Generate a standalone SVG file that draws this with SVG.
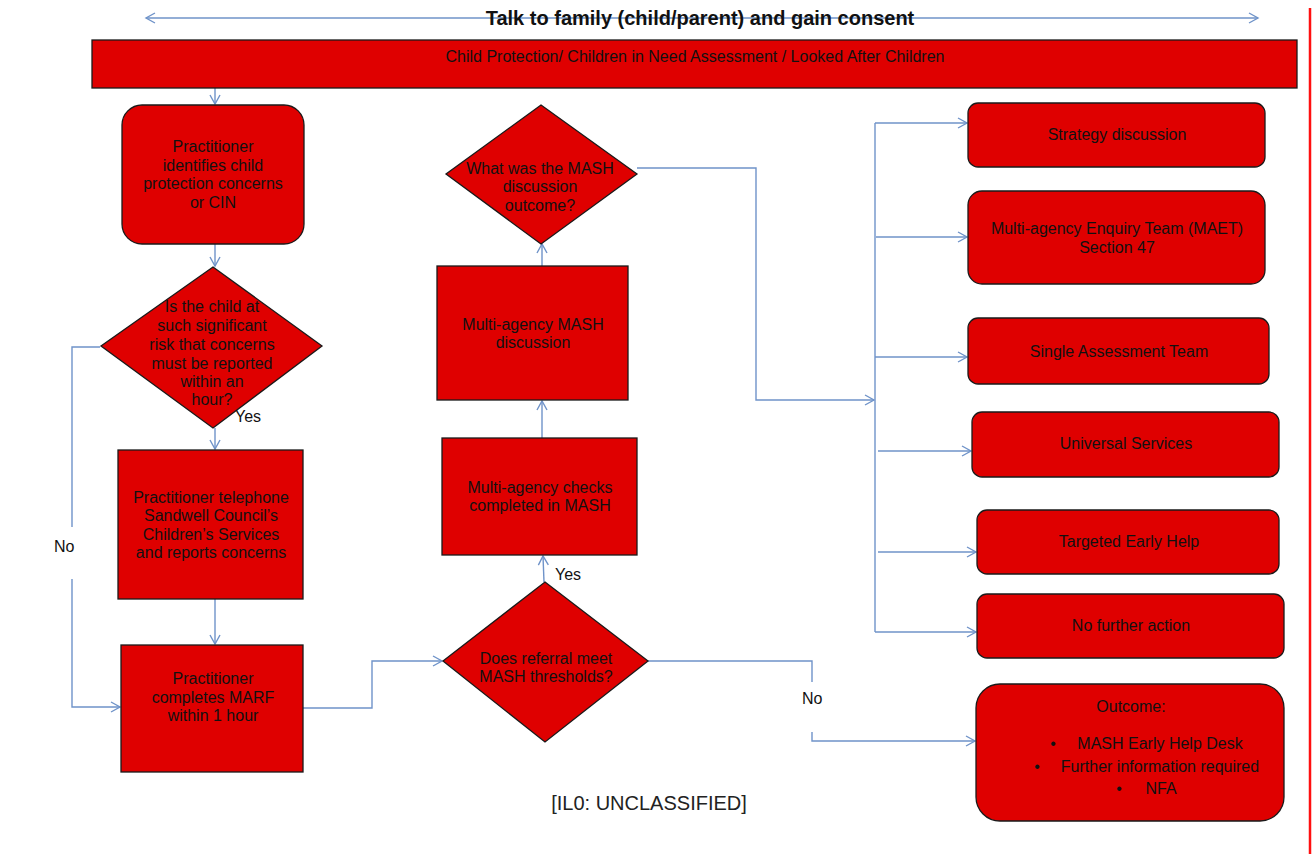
<svg xmlns="http://www.w3.org/2000/svg" width="1316" height="854" viewBox="0 0 1316 854">
<style>
.n{fill:#df0000;stroke:#1a1a1a;stroke-width:1.3}
.t{font-family:"Liberation Sans",Arial,sans-serif;font-size:16px;fill:#111;text-anchor:middle}
.l{font-family:"Liberation Sans",Arial,sans-serif;font-size:16px;fill:#111}
.c{fill:none;stroke:#6f93c9;stroke-width:1.4}
</style>
<defs>
<marker id="a" markerWidth="12" markerHeight="12" refX="10" refY="6" orient="auto" markerUnits="userSpaceOnUse">
<path d="M1,1 L10,6 L1,11" fill="none" stroke="#6f93c9" stroke-width="1.4"/>
</marker>
<marker id="as" markerWidth="12" markerHeight="12" refX="2" refY="6" orient="auto" markerUnits="userSpaceOnUse">
<path d="M11,1 L2,6 L11,11" fill="none" stroke="#6f93c9" stroke-width="1.4"/>
</marker>
</defs>
<rect width="1316" height="854" fill="#fff"/>
<line x1="1310" y1="8" x2="1310" y2="854" stroke="#ff1010" stroke-width="2.5"/>

<g id="connectors">
<line class="c" x1="146" y1="18" x2="1258" y2="18" marker-start="url(#as)" marker-end="url(#a)"/>
<line class="c" x1="215" y1="88" x2="215" y2="104" marker-end="url(#a)"/>
<line class="c" x1="215" y1="244" x2="215" y2="266" marker-end="url(#a)"/>
<line class="c" x1="215" y1="428" x2="215" y2="449" marker-end="url(#a)"/>
<line class="c" x1="215" y1="599" x2="215" y2="644" marker-end="url(#a)"/>
<polyline class="c" points="100,347 72,347 72,527"/>
<polyline class="c" points="72,579 72,707 120,707" marker-end="url(#a)"/>
<polyline class="c" points="303,708 372,708 372,661 442,661" marker-end="url(#a)"/>
<line class="c" x1="544" y1="582" x2="543" y2="556" marker-end="url(#a)"/>
<line class="c" x1="542" y1="438" x2="542" y2="401" marker-end="url(#a)"/>
<line class="c" x1="542" y1="266" x2="542" y2="244" marker-end="url(#a)"/>
<polyline class="c" points="637,168 756,168 756,400 874,400" marker-end="url(#a)"/>
<line class="c" x1="875" y1="123" x2="875" y2="632"/>
<line class="c" x1="875" y1="123" x2="967" y2="123" marker-end="url(#a)"/>
<line class="c" x1="876" y1="237" x2="967" y2="237" marker-end="url(#a)"/>
<line class="c" x1="875" y1="357" x2="967" y2="357" marker-end="url(#a)"/>
<line class="c" x1="878" y1="451" x2="971" y2="451" marker-end="url(#a)"/>
<line class="c" x1="878" y1="552" x2="976" y2="552" marker-end="url(#a)"/>
<line class="c" x1="875" y1="632" x2="976" y2="632" marker-end="url(#a)"/>
<polyline class="c" points="648,661 812,661 812,682"/>
<polyline class="c" points="812,732 812,741 975,741" marker-end="url(#a)"/>
</g>

<g id="title">
<text x="700" y="25" font-family="Liberation Sans,Arial,sans-serif" font-size="20" font-weight="bold" fill="#111" text-anchor="middle">Talk to family (child/parent) and gain consent</text>
</g>

<g id="banner">
<rect class="n" x="92" y="40" width="1205" height="48"/>
<text class="t" x="695" y="62">Child Protection/ Children in Need Assessment / Looked After Children</text>
</g>

<g id="identify">
<rect class="n" x="122" y="105" width="182" height="139" rx="20"/>
<text class="t" x="213" y="152">Practitioner</text>
<text class="t" x="213" y="171">identifies child</text>
<text class="t" x="213" y="189">protection concerns</text>
<text class="t" x="213" y="208">or CIN</text>
</g>

<g id="risk">
<polygon class="n" points="213,267 322,346 213,428 101,346"/>
<text class="t" x="212" y="312">Is the child at</text>
<text class="t" x="212" y="331">such significant</text>
<text class="t" x="212" y="350">risk that concerns</text>
<text class="t" x="212" y="369">must be reported</text>
<text class="t" x="212" y="387">within an</text>
<text class="t" x="212" y="405">hour?</text>
</g>

<g id="telephone">
<rect class="n" x="118" y="450" width="185" height="149"/>
<text class="t" x="211" y="503">Practitioner telephone</text>
<text class="t" x="211" y="521">Sandwell Council’s</text>
<text class="t" x="211" y="540">Children’s Services</text>
<text class="t" x="211" y="558">and reports concerns</text>
</g>

<g id="marf">
<rect class="n" x="121" y="645" width="182" height="127"/>
<text class="t" x="213" y="684">Practitioner</text>
<text class="t" x="213" y="703">completes MARF</text>
<text class="t" x="213" y="721">within 1 hour</text>
</g>

<g id="thresholds">
<polygon class="n" points="545,582 648,661 545,742 443,661"/>
<text class="t" x="546" y="664">Does referral meet</text>
<text class="t" x="546" y="682">MASH thresholds?</text>
</g>

<g id="checks">
<rect class="n" x="442" y="438" width="195" height="117"/>
<text class="t" x="540" y="493">Multi-agency checks</text>
<text class="t" x="540" y="511">completed in MASH</text>
</g>

<g id="discussion">
<rect class="n" x="437" y="266" width="191" height="134"/>
<text class="t" x="533" y="330">Multi-agency MASH</text>
<text class="t" x="533" y="348">discussion</text>
</g>

<g id="outcome-q">
<polygon class="n" points="541,105 637,174 541,244 446,174"/>
<text class="t" x="540" y="174">What was the MASH</text>
<text class="t" x="540" y="192">discussion</text>
<text class="t" x="540" y="211">outcome?</text>
</g>

<g id="strategy">
<rect class="n" x="968" y="103" width="297" height="64" rx="10"/>
<text class="t" x="1117" y="140">Strategy discussion</text>
</g>

<g id="maet">
<rect class="n" x="968" y="191" width="297" height="93" rx="14"/>
<text class="t" x="1117" y="234">Multi-agency Enquiry Team (MAET)</text>
<text class="t" x="1117" y="253">Section 47</text>
</g>

<g id="sat">
<rect class="n" x="968" y="318" width="301" height="66" rx="10"/>
<text class="t" x="1119" y="357">Single Assessment Team</text>
</g>

<g id="universal">
<rect class="n" x="972" y="412" width="307" height="65" rx="10"/>
<text class="t" x="1126" y="449">Universal Services</text>
</g>

<g id="targeted">
<rect class="n" x="977" y="510" width="302" height="64" rx="10"/>
<text class="t" x="1129" y="547">Targeted Early Help</text>
</g>

<g id="nfa">
<rect class="n" x="977" y="594" width="307" height="64" rx="10"/>
<text class="t" x="1131" y="631">No further action</text>
</g>

<g id="outcome">
<rect class="n" x="976" y="684" width="308" height="137" rx="24"/>
<text class="t" x="1131" y="712">Outcome:</text>
<text class="t" x="1053" y="749">•</text>
<text class="t" x="1160" y="749">MASH Early Help Desk</text>
<text class="t" x="1037" y="772">•</text>
<text class="t" x="1160" y="772">Further information required</text>
<text class="t" x="1119" y="794">•</text>
<text class="t" x="1161" y="794">NFA</text>
</g>

<g id="labels">
<text class="l" x="235" y="422">Yes</text>
<text class="l" x="555" y="580">Yes</text>
<text class="l" x="54" y="552">No</text>
<text class="l" x="802" y="704">No</text>
<text x="649" y="810" font-family="Liberation Sans,Arial,sans-serif" font-size="20" fill="#222" text-anchor="middle">[IL0: UNCLASSIFIED]</text>
</g>
</svg>
